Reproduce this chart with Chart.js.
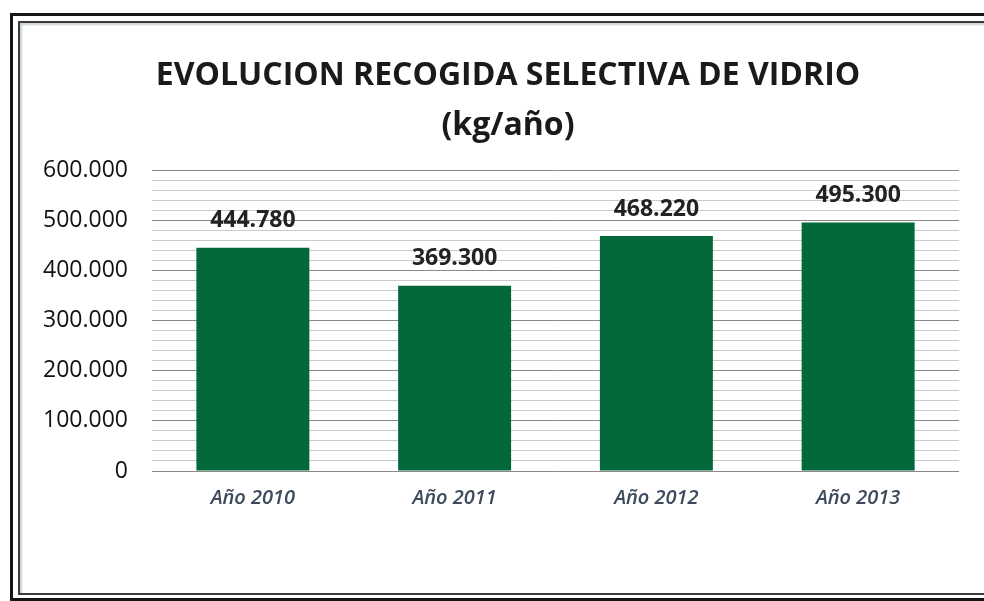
<!DOCTYPE html>
<html>
<head>
<meta charset="utf-8">
<script src="https://cdn.jsdelivr.net/npm/chart.js@4/dist/chart.umd.min.js"></script>
<style>
  html, body { margin: 0; padding: 0; background: #fff; }
  #wrap { position: relative; width: 984px; height: 601px; overflow: hidden; }
  #outer { position: absolute; left: 10px; top: 13px; width: 990px; height: 582px; border: 3px solid #161616; border-right: none; }
  #inner { position: absolute; left: 18px; top: 21px; width: 990px; height: 570px; border: 2px solid #3a3a3a; border-right: none; box-shadow: inset 2px 2px 2px #c9d2d8; }
  canvas { position: absolute; left: 0; top: 0; }
</style>
</head>
<body>
<div id="wrap">
  <div id="outer"></div>
  <div id="inner"></div>
  <canvas id="chart" width="984" height="601"></canvas>
</div>
<script>
const categories = ["Año 2010", "Año 2011", "Año 2012", "Año 2013"];
const kgValues = [444780, 369300, 468220, 495300];
const titleLines = ["EVOLUCION RECOGIDA SELECTIVA DE VIDRIO", "(kg/año)"];

function formatKg(value) {
    // punto como separador de miles
    return String(Math.round(value)).replace(/\B(?=(\d{3})+(?!\d))/g, ".");
}

const barLabels = {
    id: "barLabels",
    afterDatasetsDraw(chart) {
        const ctx = chart.ctx;
        const meta = chart.getDatasetMeta(0);
        ctx.save();
        ctx.font = "bold 23px 'Open Sans'";
        ctx.fillStyle = "#222";
        ctx.textAlign = "center";
        ctx.textBaseline = "middle";
        meta.data.forEach((bar, i) => {
            ctx.fillText(formatKg(kgValues[i]), bar.x, bar.y - 27);
        });
        ctx.restore();
    }
};

new Chart(document.getElementById("chart"), {
    type: "bar",
    data: {
        labels: categories,
        datasets: [{
            data: kgValues,
            backgroundColor: "#03693a",
            borderWidth: 0,
            categoryPercentage: 1,
            barPercentage: 0.56
        }]
    },
    options: {
        responsive: false,
        animation: false,
        layout: { padding: { left: 38, right: 6, top: 0, bottom: 76 } },
        plugins: {
            legend: { display: false },
            tooltip: { enabled: false },
            title: {
                display: true,
                text: titleLines,
                color: "#1a1a1a",
                font: { family: "'Open Sans'", size: 32, weight: "bold", lineHeight: 1.5625 },
                padding: { top: 51, bottom: 19 }
            }
        },
        scales: {
            x: {
                grid: { display: false, drawTicks: false },
                border: { display: false },
                ticks: {
                    color: "#3d4b5c",
                    padding: 15,
                    font: { family: "'Open Sans'", size: 20, style: "italic", weight: "600" }
                }
            },
            y: {
                min: 0,
                max: 600000,
                border: { display: false },
                afterFit: axis => { axis.width = 114; },
                grid: {
                    color: c => (c.tick && c.tick.value % 100000 === 0) ? "#8a8a8a" : "#cacaca",
                    lineWidth: 1,
                    drawTicks: false
                },
                ticks: {
                    stepSize: 20000,
                    autoSkip: false,
                    color: "#111",
                    padding: 24,
                    font: { family: "'Open Sans'", size: 23, weight: "500" },
                    callback: v => v % 100000 === 0 ? formatKg(v) : ""
                }
            },
            yRight: {
                position: "right",
                min: 0,
                max: 600000,
                grid: { display: false, drawTicks: false },
                border: { display: false },
                ticks: { display: false },
                afterFit: axis => { axis.width = 19; }
            }
        }
    },
    plugins: [barLabels]
});
</script>
</body>
</html>
